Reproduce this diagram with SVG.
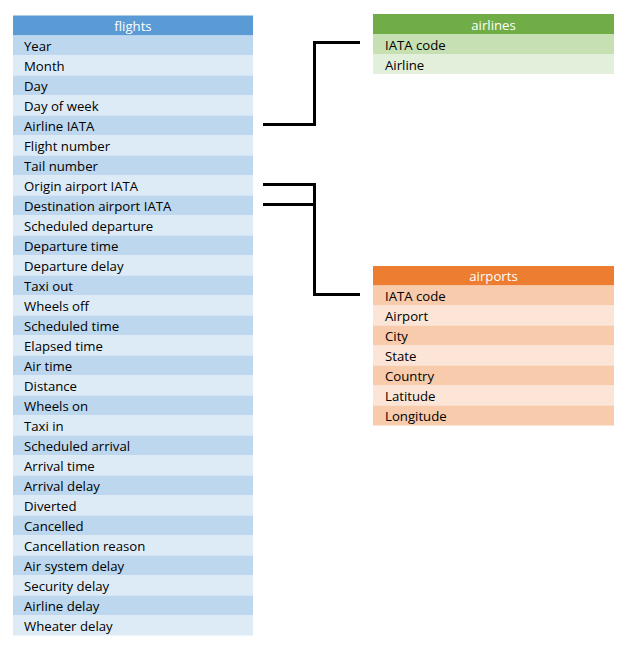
<svg xmlns="http://www.w3.org/2000/svg" width="630" height="650" viewBox="0 0 630 650">
<style>
text{font-family:"Open Sans","Noto Sans","Liberation Sans",sans-serif;font-size:13.2px;fill:#000}
.h{fill:#fff;text-anchor:middle}
.b1{fill:#BDD7EE}.b2{fill:#DDEBF7}.bh{fill:#5B9BD5}
.g1{fill:#C6E0B4}.g2{fill:#E2EFDA}.gh{fill:#70AD47}
.o1{fill:#F8CBAD}.o2{fill:#FCE4D6}.oh{fill:#ED7D31}
.c{fill:none;stroke:#000;stroke-width:3}
</style>
<rect width="630" height="650" fill="#fff"/>
<g id="flights">
<rect class="bh" x="13" y="15.5" width="240" height="20"/>
<text class="h" x="133" y="31">flights</text>
<rect class="b1" x="13" y="35.5" width="240" height="20"/><text x="24" y="51">Year</text>
<rect class="b2" x="13" y="55.5" width="240" height="20"/><text x="24" y="71">Month</text>
<rect class="b1" x="13" y="75.5" width="240" height="20"/><text x="24" y="91">Day</text>
<rect class="b2" x="13" y="95.5" width="240" height="20"/><text x="24" y="111">Day of week</text>
<rect class="b1" x="13" y="115.5" width="240" height="20"/><text x="24" y="131">Airline IATA</text>
<rect class="b2" x="13" y="135.5" width="240" height="20"/><text x="24" y="151">Flight number</text>
<rect class="b1" x="13" y="155.5" width="240" height="20"/><text x="24" y="171">Tail number</text>
<rect class="b2" x="13" y="175.5" width="240" height="20"/><text x="24" y="191">Origin airport IATA</text>
<rect class="b1" x="13" y="195.5" width="240" height="20"/><text x="24" y="211">Destination airport IATA</text>
<rect class="b2" x="13" y="215.5" width="240" height="20"/><text x="24" y="231">Scheduled departure</text>
<rect class="b1" x="13" y="235.5" width="240" height="20"/><text x="24" y="251">Departure time</text>
<rect class="b2" x="13" y="255.5" width="240" height="20"/><text x="24" y="271">Departure delay</text>
<rect class="b1" x="13" y="275.5" width="240" height="20"/><text x="24" y="291">Taxi out</text>
<rect class="b2" x="13" y="295.5" width="240" height="20"/><text x="24" y="311">Wheels off</text>
<rect class="b1" x="13" y="315.5" width="240" height="20"/><text x="24" y="331">Scheduled time</text>
<rect class="b2" x="13" y="335.5" width="240" height="20"/><text x="24" y="351">Elapsed time</text>
<rect class="b1" x="13" y="355.5" width="240" height="20"/><text x="24" y="371">Air time</text>
<rect class="b2" x="13" y="375.5" width="240" height="20"/><text x="24" y="391">Distance</text>
<rect class="b1" x="13" y="395.5" width="240" height="20"/><text x="24" y="411">Wheels on</text>
<rect class="b2" x="13" y="415.5" width="240" height="20"/><text x="24" y="431">Taxi in</text>
<rect class="b1" x="13" y="435.5" width="240" height="20"/><text x="24" y="451">Scheduled arrival</text>
<rect class="b2" x="13" y="455.5" width="240" height="20"/><text x="24" y="471">Arrival time</text>
<rect class="b1" x="13" y="475.5" width="240" height="20"/><text x="24" y="491">Arrival delay</text>
<rect class="b2" x="13" y="495.5" width="240" height="20"/><text x="24" y="511">Diverted</text>
<rect class="b1" x="13" y="515.5" width="240" height="20"/><text x="24" y="531">Cancelled</text>
<rect class="b2" x="13" y="535.5" width="240" height="20"/><text x="24" y="551">Cancellation reason</text>
<rect class="b1" x="13" y="555.5" width="240" height="20"/><text x="24" y="571">Air system delay</text>
<rect class="b2" x="13" y="575.5" width="240" height="20"/><text x="24" y="591">Security delay</text>
<rect class="b1" x="13" y="595.5" width="240" height="20"/><text x="24" y="611">Airline delay</text>
<rect class="b2" x="13" y="615.5" width="240" height="20"/><text x="24" y="631">Wheater delay</text>
</g>
<g id="airlines">
<rect class="gh" x="373" y="14" width="241" height="20"/>
<text class="h" x="493.5" y="29.5">airlines</text>
<rect class="g1" x="373" y="34" width="241" height="20"/><text x="385" y="49.5">IATA code</text>
<rect class="g2" x="373" y="54" width="241" height="20"/><text x="385" y="69.5">Airline</text>
</g>
<g id="airports">
<rect class="oh" x="373" y="266" width="241" height="19.5"/>
<text class="h" x="493.5" y="281">airports</text>
<rect class="o1" x="373" y="285.5" width="241" height="20"/><text x="385" y="301">IATA code</text>
<rect class="o2" x="373" y="305.5" width="241" height="20"/><text x="385" y="321">Airport</text>
<rect class="o1" x="373" y="325.5" width="241" height="20"/><text x="385" y="341">City</text>
<rect class="o2" x="373" y="345.5" width="241" height="20"/><text x="385" y="361">State</text>
<rect class="o1" x="373" y="365.5" width="241" height="20"/><text x="385" y="381">Country</text>
<rect class="o2" x="373" y="385.5" width="241" height="20"/><text x="385" y="401">Latitude</text>
<rect class="o1" x="373" y="405.5" width="241" height="20"/><text x="385" y="421">Longitude</text>
</g>
<g id="connectors">
<polyline class="c" points="263,124.5 314.5,124.5 314.5,42.5 360,42.5"/>
<polyline class="c" points="263,184.5 314.5,184.5 314.5,294.5 360,294.5"/>
<polyline class="c" points="263,204.5 314.5,204.5"/>
</g>
</svg>
